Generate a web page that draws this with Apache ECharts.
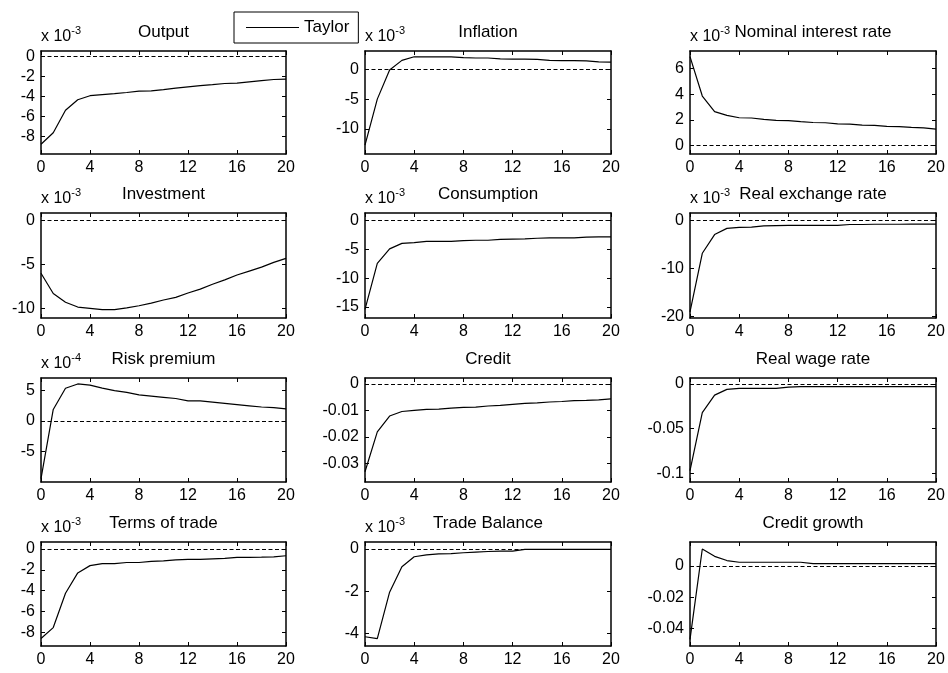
<!DOCTYPE html>
<html><head><meta charset="utf-8">
<script src="https://cdn.jsdelivr.net/npm/echarts@6/dist/echarts.min.js"></script>
<style>html,body{margin:0;padding:0;background:#fff}#c{width:948px;height:673px}</style>
</head><body><div id="c"></div>
<script>
// ---- data ----
const periods = [0,1,2,3,4,5,6,7,8,9,10,11,12,13,14,15,16,17,18,19,20];
const xTicks = [0,4,8,12,16,20];
const seriesName = 'Taylor';
const titles = ['Output','Inflation','Nominal interest rate','Investment','Consumption','Real exchange rate',
  'Risk premium','Credit','Real wage rate','Terms of trade','Trade Balance','Credit growth'];
const scaleExp = ['-3','-3','-3','-3','-3','-3','-4',null,null,'-3','-3',null];
const yTicks = [[-8,-6,-4,-2,0],[-10,-5,0],[0,2,4,6],[-10,-5,0],[-15,-10,-5,0],[-20,-10,0],
  [-5,0,5],[-0.03,-0.02,-0.01,0],[-0.1,-0.05,0],[-8,-6,-4,-2,0],[-4,-2,0],[-0.04,-0.02,0]];
const yMin = [-9.73,-14.2,-0.64,-11.1,-16.9,-20.3,-10.05,-0.0371,-0.1098,-9.32,-4.6,-0.0513];
const yMax = [0.57,3.07,7.34,0.88,1.33,1.6,7.08,0.0023,0.0067,0.67,0.33,0.0154];

const output = [-8.75,-7.6,-5.35,-4.3,-3.9,-3.8,-3.7,-3.58,-3.45,-3.42,-3.3,-3.15,-3.02,-2.9,-2.8,-2.68,-2.65,-2.52,-2.4,-2.28,-2.25];
const inflation = [-12.7,-5.0,-0.1,1.5,2.1,2.1,2.1,2.1,1.95,1.9,1.9,1.75,1.7,1.7,1.65,1.5,1.45,1.45,1.4,1.25,1.2];
const nominalRate = [6.9,3.85,2.64,2.35,2.17,2.15,2.05,1.97,1.95,1.87,1.8,1.78,1.7,1.68,1.6,1.58,1.5,1.48,1.42,1.38,1.28];
const investment = [-6.0,-8.3,-9.3,-9.85,-10.0,-10.15,-10.15,-9.95,-9.7,-9.4,-9.05,-8.75,-8.25,-7.8,-7.25,-6.75,-6.2,-5.75,-5.3,-4.75,-4.3];
const consumption = [-15.4,-7.4,-4.9,-3.95,-3.8,-3.6,-3.6,-3.6,-3.45,-3.4,-3.4,-3.25,-3.2,-3.15,-3.05,-3.0,-3.0,-3.0,-2.85,-2.8,-2.8];
const realExchange = [-19.0,-6.8,-2.9,-1.6,-1.4,-1.35,-1.1,-1.05,-1.0,-1.0,-1.0,-1.0,-1.0,-0.8,-0.8,-0.75,-0.75,-0.75,-0.7,-0.7,-0.7];
const riskPremium = [-9.5,1.9,5.4,6.1,5.9,5.4,5.0,4.7,4.3,4.1,3.9,3.7,3.3,3.3,3.1,2.9,2.7,2.5,2.3,2.2,2.0];
const credit = [-0.0332,-0.0181,-0.0121,-0.0104,-0.0100,-0.0096,-0.0095,-0.0091,-0.0088,-0.0087,-0.0083,-0.0081,-0.0077,-0.0073,-0.0071,-0.0068,-0.0066,-0.0063,-0.0062,-0.0060,-0.0056];
const realWage = [-0.097,-0.032,-0.0125,-0.006,-0.005,-0.005,-0.005,-0.005,-0.0035,-0.003,-0.003,-0.003,-0.003,-0.003,-0.003,-0.003,-0.003,-0.003,-0.003,-0.003,-0.003];
const termsOfTrade = [-8.6,-7.55,-4.25,-2.3,-1.6,-1.4,-1.4,-1.3,-1.3,-1.2,-1.15,-1.05,-1.0,-1.0,-0.95,-0.9,-0.8,-0.8,-0.78,-0.75,-0.65];
const tradeBalance = [-4.16,-4.25,-2.05,-0.84,-0.37,-0.28,-0.23,-0.22,-0.18,-0.15,-0.12,-0.1,-0.1,-0.02,-0.02,-0.02,-0.02,-0.02,-0.02,-0.02,-0.02];
const creditGrowth = [-0.047,0.0109,0.0062,0.0035,0.0024,0.0024,0.0024,0.0024,0.0024,0.0024,0.0015,0.0015,0.0015,0.0015,0.0015,0.0015,0.0015,0.0015,0.0015,0.0015,0.0015];
const panels = [output,inflation,nominalRate,investment,consumption,realExchange,riskPremium,credit,realWage,termsOfTrade,tradeBalance,creditGrowth];

// ---- layout ----
const FONT = '"Liberation Sans", Arial, Helvetica, sans-serif';
const colLeft = [41,365,690], colWidth = [245,246,246];
const rowTop = [51,213,378,542], rowHeight = [103,105,104,104];

const grids = [], xAxes = [], yAxes = [], series = [], graphics = [];
const axisLine = {show:true, onZero:false, lineStyle:{color:'#000', width:1.5}};
const tick = (vals) => ({show:true, inside:true, length:4, lineStyle:{color:'#000', width:1}, customValues: vals});
const lbl = {color:'#000', fontSize:16, fontFamily:FONT};

for (let i = 0; i < 12; i++) {
  const r = Math.floor(i/3), c = i % 3;
  const L = colLeft[c], T = rowTop[r], W = colWidth[c], H = rowHeight[r];
  grids.push({left:L, top:T, width:W, height:H, containLabel:false});
  const xBase = {type:'value', gridIndex:i, min:0, max:20, interval:4, splitLine:{show:false}, axisLine};
  xAxes[i] = Object.assign({}, xBase, {position:'bottom', axisTick:tick(xTicks),
    axisLabel:Object.assign({margin:6, customValues:xTicks}, lbl)});
  xAxes[12+i] = Object.assign({}, xBase, {position:'top', axisTick:tick(xTicks), axisLabel:{show:false}});
  const yBase = {type:'value', gridIndex:i, min:yMin[i], max:yMax[i], splitLine:{show:false}, axisLine, scale:true};
  yAxes[i] = Object.assign({}, yBase, {position:'left', axisTick:tick(yTicks[i]),
    axisLabel:Object.assign({margin:6, customValues:yTicks[i]}, lbl)});
  yAxes[12+i] = Object.assign({}, yBase, {position:'right', axisTick:tick(yTicks[i]), axisLabel:{show:false}});
  series.push({
    name: seriesName, type:'line', xAxisIndex:i, yAxisIndex:i,
    data: periods.map((p,k) => [p, panels[i][k]]),
    symbol:'none', lineStyle:{color:'#000', width:1.2}, itemStyle:{color:'#000'},
    animation:false, silent:true,
    markLine:{silent:true, symbol:['none','none'], label:{show:false}, animation:false,
      lineStyle:{color:'#000', width:1, type:[4,2.5]}, data:[{yAxis:0}]}
  });
  graphics.push({type:'text', x:L + W/2, y:T - 19, style:{text:titles[i], fill:'#000',
    font:'17px ' + FONT, align:'center', verticalAlign:'middle'}});
  if (scaleExp[i]) {
    graphics.push({type:'text', x:L, y:T - 14, style:{
      text:'{a|x 10}{b|' + scaleExp[i] + '}', align:'left', verticalAlign:'middle',
      rich:{a:{fontSize:16, fontFamily:FONT, fill:'#000', lineHeight:24},
            b:{fontSize:11, fontFamily:FONT, fill:'#000', lineHeight:10, verticalAlign:'top'}}}});
  }
}

const chart = echarts.init(document.getElementById('c'), null, {renderer:'canvas'});
chart.setOption({
  backgroundColor:'#fff',
  animation:false,
  legend:{data:[{name:seriesName, icon:'rect'}], left:234, top:12, padding:[6,9,6,12], itemWidth:53, itemHeight:1.2,
    borderColor:'#000', borderWidth:1, backgroundColor:'#fff', selectedMode:false,
    itemStyle:{color:'#000', borderWidth:0},
    textStyle:{color:'#000', fontSize:17, fontFamily:FONT, lineHeight:19}},
  grid:grids, xAxis:xAxes, yAxis:yAxes, series:series, graphic:graphics
});
</script></body></html>
